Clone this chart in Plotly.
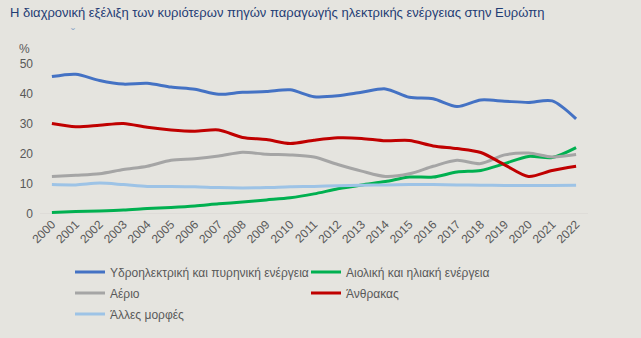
import plotly.graph_objects as go

years = [str(y) for y in range(2000, 2023)]

hydro_nuclear = [45.8, 46.6, 44.5, 43.3, 43.6, 42.3, 41.6, 39.9, 40.6, 40.8, 41.4, 39.1,
                 39.4, 40.6, 41.7, 38.9, 38.4, 35.8, 38.0, 37.6, 37.2, 37.7, 31.7]
wind_solar = [0.5, 0.8, 1.0, 1.3, 1.8, 2.2, 2.7, 3.4, 4.0, 4.7, 5.4, 6.7,
              8.4, 9.7, 10.8, 12.3, 12.3, 14.0, 14.5, 16.8, 19.2, 18.8, 22.1]
gas = [12.5, 12.9, 13.4, 14.8, 15.9, 17.9, 18.4, 19.3, 20.6, 19.9, 19.7, 19.0,
       16.5, 14.3, 12.5, 13.4, 15.9, 17.9, 16.8, 19.7, 20.3, 19.0, 19.8]
coal = [30.2, 29.1, 29.6, 30.2, 28.9, 28.0, 27.6, 28.0, 25.5, 24.8, 23.5, 24.6,
        25.4, 25.2, 24.4, 24.5, 22.7, 21.8, 20.5, 16.4, 12.5, 14.5, 15.9]
other = [9.8, 9.7, 10.3, 9.8, 9.2, 9.2, 9.1, 8.8, 8.7, 8.8, 9.1, 9.2,
         9.4, 9.6, 9.7, 9.8, 9.8, 9.7, 9.6, 9.5, 9.5, 9.5, 9.6]

series = [
    ("Υδροηλεκτρική και πυρηνική ενέργεια", hydro_nuclear, "#4472C4", "legend"),
    ("Αιολική και ηλιακή ενέργεια", wind_solar, "#00B050", "legend"),
    ("Αέριο", gas, "#A5A5A5", "legend2"),
    ("Άνθρακας", coal, "#C00000", "legend2"),
    ("Άλλες μορφές", other, "#9DC3E6", "legend3"),
]

title = "Η διαχρονική εξέλιξη των κυριότερων πηγών παραγωγής ηλεκτρικής ενέργειας στην Ευρώπη"

bg = "#E5E4DF"
tick_color = "#595959"
font_family = "Liberation Sans, Arial, sans-serif"

W, H = 641, 338
ML, MR, MT, MB = 40, 53, 64, 124
PW, PH = W - ML - MR, H - MT - MB


def px_to_paper(px, py):
    return (px - ML) / PW, 1 - (py - MT) / PH


fig = go.Figure()
for name, vals, color, leg in series:
    fig.add_trace(go.Scatter(
        x=years, y=vals, name=name, mode="lines",
        line=dict(color=color, width=3, shape="spline", smoothing=0.8),
        legend=leg,
    ))

legend_common = dict(
    orientation="h", xref="container", yref="container",
    xanchor="left", yanchor="middle",
    bgcolor="rgba(0,0,0,0)", borderwidth=0,
    font=dict(family=font_family, size=12, color=tick_color),
    entrywidth=191, entrywidthmode="pixels",
    itemwidth=30, traceorder="normal",
)

tx, ty = px_to_paper(8, 13)
pcx, pcy = px_to_paper(24, 49)
cx, cy = px_to_paper(73, 34)

fig.update_layout(
    width=W, height=H,
    margin=dict(l=ML, r=MR, t=MT, b=MB, autoexpand=False),
    paper_bgcolor=bg, plot_bgcolor=bg,
    font=dict(family=font_family, size=12, color=tick_color),
    showlegend=True,
    legend=dict(**legend_common, x=70 / W, y=1 - 272 / H),
    legend2=dict(**legend_common, x=70 / W, y=1 - 293 / H),
    legend3=dict(**legend_common, x=70 / W, y=1 - 314 / H),
    xaxis=dict(
        type="category", range=[-0.5, 22.5],
        showgrid=False, zeroline=False, showline=False,
        tickangle=-45, ticks="",
        tickfont=dict(family=font_family, size=12, color=tick_color),
    ),
    yaxis=dict(
        range=[0, 50], tickvals=[0, 10, 20, 30, 40, 50],
        showgrid=False, zeroline=False, showline=False, ticks="",
        ticklabelstandoff=6,
        tickfont=dict(family=font_family, size=12, color=tick_color),
    ),
    shapes=[dict(type="line", xref="paper", yref="y", x0=0, x1=1, y0=0, y1=0,
                 line=dict(color="#D6D5D0", width=1), layer="below")],
    annotations=[
        dict(text=title, xref="paper", yref="paper", x=tx, y=ty,
             xanchor="left", yanchor="middle", showarrow=False,
             font=dict(family=font_family, size=13, color="#1F3C74")),
        dict(text="%", xref="paper", yref="paper", x=pcx, y=pcy,
             xanchor="center", yanchor="middle", showarrow=False,
             font=dict(family=font_family, size=12, color=tick_color)),
        dict(text="ˇ", xref="paper", yref="paper", x=cx, y=cy,
             xanchor="center", yanchor="middle", showarrow=False,
             font=dict(family=font_family, size=12, color="#8FA8C8")),
    ],
)

fig.write_html("out.html")
